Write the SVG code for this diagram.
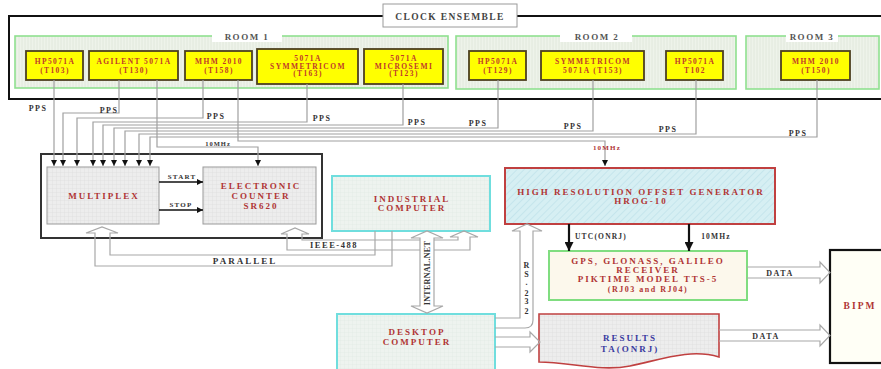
<svg xmlns="http://www.w3.org/2000/svg" width="881" height="369" viewBox="0 0 881 369">
<style>
text{font-family:"Liberation Serif","Times New Roman",serif;font-weight:bold;text-anchor:middle}
.clk{font-size:7.5px;letter-spacing:1.4px;fill:#c0392b}
.red{font-size:9px;letter-spacing:2px;fill:#b03535}
.lbl{font-size:8px;letter-spacing:1.5px;fill:#333}
.sm{font-size:7px;letter-spacing:1.2px;fill:#333}
.room{font-size:9px;letter-spacing:1.5px;fill:#555}
.box{fill:#ffff00;stroke:#4d4020;stroke-width:1.8}
.wire{fill:none;stroke:#a0a0a0;stroke-width:1.2}
.hollow{fill:none;stroke:#a8a8a8;stroke-width:1.2}
.hollowf{fill:#fff;stroke:#a8a8a8;stroke-width:1.2}
.blk{fill:none;stroke:#111;stroke-width:1.4}
.thick{fill:none;stroke:#111;stroke-width:2.2}
</style>
<defs>
<marker id="ah" viewBox="0 0 10 10" refX="10" refY="5" markerWidth="6" markerHeight="6" markerUnits="userSpaceOnUse" orient="auto"><path d="M0,0L10,5L0,10z" fill="#111"/></marker>
<marker id="ahb" viewBox="0 0 10 10" refX="10" refY="5" markerWidth="9" markerHeight="9" markerUnits="userSpaceOnUse" orient="auto"><path d="M0,0L10,5L0,10z" fill="#111"/></marker>
<pattern id="vstripe" width="3" height="3" patternUnits="userSpaceOnUse"><rect width="3" height="3" fill="#eef3ea"/><line x1="1" y1="0" x2="1" y2="3" stroke="#dde5d9" stroke-width="0.8"/></pattern>
<pattern id="grid" width="4" height="4" patternUnits="userSpaceOnUse"><rect width="4" height="4" fill="#ededed"/><path d="M0,0H4M0,0V4" stroke="#d8d8d8" stroke-width="0.6"/></pattern>
<pattern id="gridg" width="4" height="4" patternUnits="userSpaceOnUse"><rect width="4" height="4" fill="#eef3ef"/><path d="M0,0H4M0,0V4" stroke="#dde5df" stroke-width="0.6"/></pattern>
<pattern id="hatch" width="5" height="5" patternUnits="userSpaceOnUse" patternTransform="rotate(45)"><rect width="5" height="5" fill="#d6eff3"/><line x1="0" y1="0" x2="0" y2="5" stroke="#c0e2ea" stroke-width="1.5"/></pattern>
</defs>
<rect width="881" height="369" fill="#fff"/>

<g id="clock-ensemble">
<rect x="9" y="16" width="880" height="83" fill="#fff" stroke="#111" stroke-width="2"/>
<rect x="383" y="4" width="134" height="23" fill="#fff" stroke="#9a9a9a" stroke-width="1"/>
<text x="450" y="19.5" style="font-size:9.5px;letter-spacing:1.4px;fill:#444">CLOCK ENSEMBLE</text>
</g>

<g id="room1">
<rect x="15" y="36" width="433" height="52" fill="url(#vstripe)" stroke="#8fe08f" stroke-width="1.6"/>
<rect x="212" y="30" width="70" height="12" fill="#fff"/>
<text x="247" y="40" class="room">ROOM 1</text>
</g>
<g id="room2">
<rect x="456" y="36" width="280" height="53" fill="url(#vstripe)" stroke="#8fe08f" stroke-width="1.6"/>
<rect x="560" y="30" width="72" height="12" fill="#fff"/>
<text x="597" y="40" class="room">ROOM 2</text>
</g>
<g id="room3">
<rect x="746" y="36" width="133" height="53" fill="url(#vstripe)" stroke="#8fe08f" stroke-width="1.6"/>
<rect x="786" y="30" width="52" height="12" fill="#fff"/>
<text x="812" y="40" class="room">ROOM 3</text>
</g>

<g id="clk-t103"><rect class="box" x="26" y="51" width="57" height="29"/><text class="clk" x="55" y="64">HP5071A</text><text class="clk" x="55" y="73">(T103)</text></g>
<g id="clk-t130"><rect class="box" x="89" y="51" width="89" height="29"/><text class="clk" x="134" y="64">AGILENT 5071A</text><text class="clk" x="134" y="73">(T130)</text></g>
<g id="clk-t158"><rect class="box" x="185" y="51" width="67" height="29"/><text class="clk" x="219" y="64">MHM 2010</text><text class="clk" x="219" y="73">(T158)</text></g>
<g id="clk-t163"><rect class="box" x="257" y="49" width="101" height="35"/><text class="clk" x="308" y="61">5071A</text><text class="clk" x="308" y="68.5">SYMMETRICOM</text><text class="clk" x="308" y="76">(T163)</text></g>
<g id="clk-t123"><rect class="box" x="364" y="49" width="79" height="35"/><text class="clk" x="404" y="61">5071A</text><text class="clk" x="404" y="68.5">MICROSEMI</text><text class="clk" x="404" y="76">(T123)</text></g>
<g id="clk-t129"><rect class="box" x="469" y="51" width="57" height="29"/><text class="clk" x="498" y="64">HP5071A</text><text class="clk" x="498" y="73">(T129)</text></g>
<g id="clk-t153"><rect class="box" x="541" y="51" width="103" height="29"/><text class="clk" x="593" y="64">SYMMETRICOM</text><text class="clk" x="593" y="73">5071A (T153)</text></g>
<g id="clk-t102"><rect class="box" x="666" y="51" width="57" height="29"/><text class="clk" x="695" y="64">HP5071A</text><text class="clk" x="695" y="73">T102</text></g>
<g id="clk-t150"><rect class="box" x="781" y="51" width="69" height="29"/><text class="clk" x="816" y="64">MHM 2010</text><text class="clk" x="816" y="73">(T150)</text></g>

<g id="multiplex-frame">
<rect x="41" y="154" width="281" height="84" fill="#fff" stroke="#333" stroke-width="2"/>
</g>
<g id="multiplex">
<rect x="47" y="167" width="112" height="57" fill="url(#grid)" stroke="#999" stroke-width="1"/>
<text class="red" x="104" y="199">MULTIPLEX</text>
</g>
<g id="counter">
<rect x="203" y="167" width="113" height="57" fill="url(#grid)" stroke="#999" stroke-width="1"/>
<text class="red" x="261" y="189">ELECTRONIC</text>
<text class="red" x="261" y="199">COUNTER</text>
<text class="red" x="261" y="209">SR620</text>
</g>
<g id="industrial-computer">
<rect x="332" y="176" width="158" height="55" fill="url(#gridg)" stroke="#70dede" stroke-width="2"/>
<text class="red" x="412" y="202">INDUSTRIAL</text>
<text class="red" x="412" y="211">COMPUTER</text>
</g>
<g id="hrog">
<rect x="505" y="168" width="270" height="56" fill="url(#hatch)" stroke="#c04040" stroke-width="2"/>
<text class="red" x="641" y="195">HIGH RESOLUTION OFFSET GENERATOR</text>
<text class="red" x="641" y="204">HROG-10</text>
</g>
<g id="gps-receiver">
<rect x="549" y="251" width="198" height="49" fill="#fcf8ec" stroke="#80dd80" stroke-width="2"/>
<text class="red" x="648" y="264">GPS, GLONASS, GALILEO</text>
<text class="red" x="648" y="273">RECEIVER</text>
<text class="red" x="648" y="282">PIKTIME MODEL TTS-5</text>
<text class="red" x="648" y="292" style="font-size:8px;letter-spacing:1.5px">(RJ03 and RJ04)</text>
</g>
<g id="desktop-computer">
<rect x="337" y="314" width="158" height="60" fill="url(#gridg)" stroke="#70dede" stroke-width="2"/>
<text class="red" x="417" y="335">DESKTOP</text>
<text class="red" x="417" y="345">COMPUTER</text>
</g>
<g id="results">
<path d="M539,314H719V357C690,348 660,360 630,366C600,372 570,362 539,362Z" fill="url(#grid)" stroke="#c04040" stroke-width="1.6"/>
<text class="red" x="630" y="341" style="fill:#3a3aa0">RESULTS</text>
<text class="red" x="630" y="352" style="fill:#3a3aa0">TA(ONRJ)</text>
</g>
<g id="bipm">
<rect x="830" y="250" width="60" height="113" fill="#fffff6" stroke="#111" stroke-width="2.2"/>
<text class="red" x="860" y="309" style="font-size:9.5px">BIPM</text>
</g>

<g id="connectors">
<path class="wire" d="M54,80V166" marker-end="url(#ah)"/>
<path class="wire" d="M119,80V113H63V166" marker-end="url(#ah)"/>
<path class="wire" d="M157,80V147H258V166" marker-end="url(#ah)"/>
<path class="wire" d="M203,80V118H77V166" marker-end="url(#ah)"/>
<path class="wire" d="M238,80V141H605V166" marker-end="url(#ah)"/>
<path class="wire" d="M307,84V122H93V166" marker-end="url(#ah)"/>
<path class="wire" d="M403,84V125H103V166" marker-end="url(#ah)"/>
<path class="wire" d="M498,80V128H114V166" marker-end="url(#ah)"/>
<path class="wire" d="M593,80V131H125V166" marker-end="url(#ah)"/>
<path class="wire" d="M696,80V134H139V166" marker-end="url(#ah)"/>
<path class="wire" d="M817,80V137H150V166" marker-end="url(#ah)"/>

<text class="lbl" x="38" y="111">PPS</text>
<text class="lbl" x="109" y="113">PPS</text>
<text class="lbl" x="216" y="118.5">PPS</text>
<text class="lbl" x="322" y="121">PPS</text>
<text class="lbl" x="417" y="124.5">PPS</text>
<text class="lbl" x="478" y="126">PPS</text>
<text class="lbl" x="573" y="129">PPS</text>
<text class="lbl" x="668" y="132">PPS</text>
<text class="lbl" x="798" y="136">PPS</text>
<text class="sm" x="218" y="145.5" style="font-size:6.5px;letter-spacing:1px">10MHz</text>
<text class="sm" x="607" y="150" style="fill:#b03535">10MHz</text>

<path class="blk" d="M159,182H203" marker-end="url(#ah)"/>
<path class="blk" d="M159,210H203" marker-end="url(#ah)"/>
<text class="sm" x="182" y="179">START</text>
<text class="sm" x="181" y="206.5">STOP</text>

<path class="hollow" d="M375,231V255H110V233H118L102,227L86,233H95V266H392V231"/>
<text class="lbl" x="245" y="263.5" style="font-size:9px;letter-spacing:2px">PARALLEL</text>
<path class="hollow" d="M470,237H478L464,231L450,237H458V240H302V234H309L295,228L281,234H287V250H470Z"/>
<text class="lbl" x="334" y="247.5" style="font-size:8.5px">IEEE-488</text>

<path class="hollowf" d="M420,238H411L427,231L443,238H434V306H443L427,313L411,306H420Z"/>
<text class="sm" transform="translate(430,273) rotate(-90)" style="font-size:8px;letter-spacing:0.3px">INTERNAL.NET</text>

<path class="hollow" d="M495,318H520V231H512L527,224L542,231H533V320Q533,328 525,328H495"/>
<g class="sm" style="font-size:8px">
<text x="527" y="268">R</text><text x="527" y="277">S</text><text x="527" y="285">.</text><text x="527" y="296">2</text><text x="527" y="304">3</text><text x="527" y="314">2</text>
</g>

<path class="thick" d="M569,224V251" marker-end="url(#ahb)"/>
<path class="thick" d="M689,224V251" marker-end="url(#ahb)"/>
<text class="sm" x="601" y="239" style="font-size:7.5px">UTC(ONRJ)</text>
<text class="sm" x="716" y="239" style="font-size:7.5px">10MHz</text>

<path class="hollow" d="M495,337H530V332L540,342L530,352V347H495"/>
<path class="hollow" d="M747,267H820V262L830,272.5L820,283V278H747"/>
<path class="hollow" d="M719,330H820V325L830,335.5L820,346V341H719"/>
<text class="lbl" x="780" y="276">DATA</text>
<text class="lbl" x="766" y="339">DATA</text>
</g>
</svg>
